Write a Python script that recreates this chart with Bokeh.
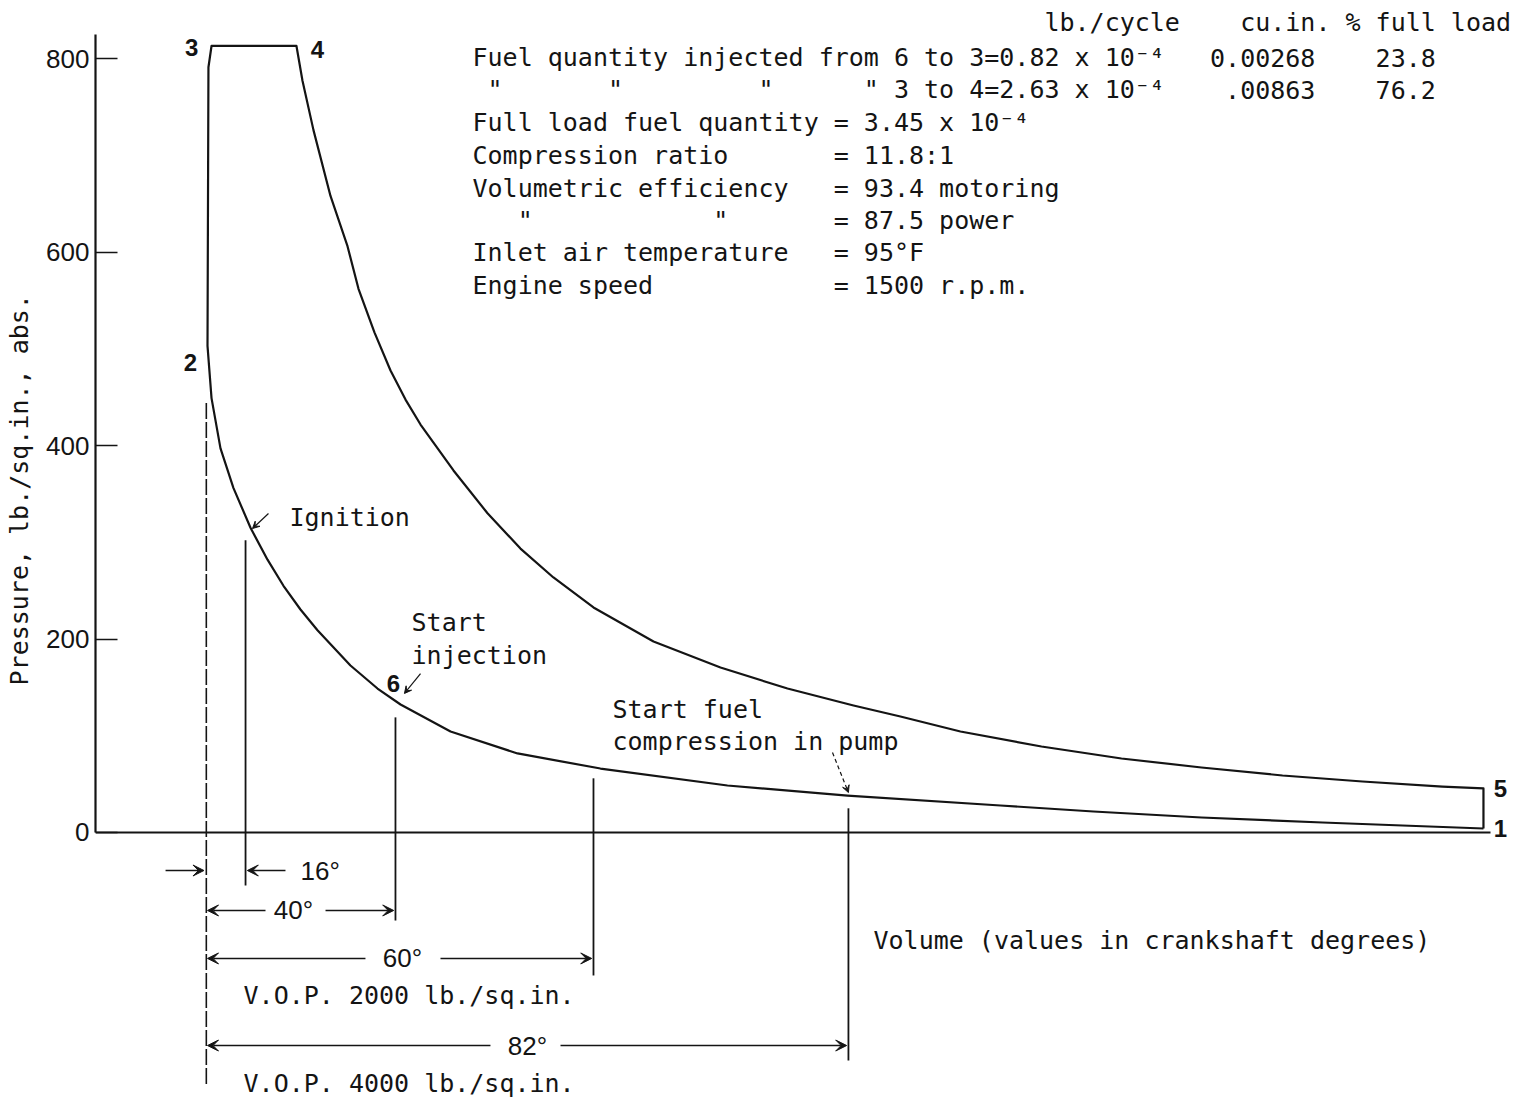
from bokeh.plotting import figure
from bokeh.models import Range1d, FixedTicker, Label, Arrow, VeeHead
from bokeh.embed import file_html
from bokeh.resources import INLINE

# ---------------- data (volume in clearance-volume units, pressure lb/sq.in. abs.) -------------
# compression curve, point 2 (TDC) -> point 1 (BDC)
comp_vol = [1.000, 1.034, 1.110, 1.220, 1.364, 1.508, 1.643, 1.787, 1.931, 2.210, 2.439, 2.634,
            3.057, 3.624, 4.326, 5.401, 6.417, 7.712, 8.499, 9.413, 10.437, 11.114, 11.80]
comp_p = [503, 449, 397, 356, 315, 282, 255, 230.5, 209, 172.6, 148.8, 132.3,
          104.4, 81.7, 66.1, 48.6, 38.2, 27.9, 21.7, 15.5, 10.3, 7.2, 4.1]
# combustion rise 2 -> 3
comb_vol = [1.008, 1.034]
comb_p = [791, 813]
# expansion curve, point 4 -> point 5
exp_vol = [1.753, 1.804, 1.897, 2.041, 2.185, 2.278, 2.413, 2.549, 2.676, 2.803, 3.082, 3.370,
           3.649, 3.928, 4.267, 4.775, 5.342, 5.909, 6.468, 6.865, 7.373, 8.059, 8.736,
           9.413, 10.099, 10.776, 11.453, 11.80]
exp_p = [813, 777, 726, 658, 606, 562, 517, 477.5, 447.5, 421.7, 374.2, 330,
         293.5, 263.6, 232.6, 197.4, 170.5, 148.8, 131.3, 119.9, 104.4, 88.9, 76.5,
         67.2, 58.9, 52.7, 47.5, 45.5]

# crank-angle events (degrees before top dead centre)
event_deg = [0, 16, 40, 60, 82]
event_vol = [0.99, 1.322, 2.591, 4.267, 6.425]
event_top = [444, 302, 119, 56, 25]

y_ticks = [0, 200, 400, 600, 800]
y_tick_labels = ["0", "200", "400", "600", "800"]

# ---------------- layout helpers ----------------
event_bottom = [-261.5, -54.8, -91.0, -147.8, -235.7]
dim_rows = [-39.3, -80.6, -130.2, -220.2]

MONO = "DejaVu Sans Mono"
LETTER = "Liberation Sans"
INK = "#141414"

p = figure(width=1519, height=1099,
           x_range=Range1d(0.052, 12.105), y_range=Range1d(-276.0, 860.0),
           output_backend="svg", toolbar_location=None,
           min_border_left=95, min_border_right=0, min_border_top=0, min_border_bottom=0)
p.xgrid.visible = False
p.ygrid.visible = False
p.outline_line_color = None

# y axis
ya = p.yaxis[0]
ya.ticker = FixedTicker(ticks=y_ticks)
ya.major_label_overrides = {t: s for t, s in zip(y_ticks, y_tick_labels)}
ya.bounds = (0, 825)
ya.major_tick_in = 22
ya.major_tick_out = 0
ya.minor_tick_in = 0
ya.minor_tick_out = 0
ya.axis_line_width = 2.2
ya.axis_line_color = INK
ya.major_tick_line_width = 1.6
ya.major_tick_line_color = INK
ya.major_label_text_font = LETTER
ya.major_label_text_font_size = "26px"
ya.major_label_text_color = INK
ya.major_label_standoff = 6
# leading no-break spaces shift the centred title up to where the original sits
ya.axis_label = "\u00a0" * 8 + "Pressure, lb./sq.in., abs."
ya.axis_label_text_font = MONO
ya.axis_label_text_font_size = "25px"
ya.axis_label_text_font_style = "normal"
ya.axis_label_text_color = INK
ya.axis_label_standoff = 9

# x axis at zero pressure
xa = p.xaxis[0]
xa.fixed_location = 0
xa.ticker = FixedTicker(ticks=[])
xa.bounds = (0.052, 11.86)
xa.major_tick_in = 0
xa.major_tick_out = 0
xa.minor_tick_in = 0
xa.minor_tick_out = 0
xa.major_label_standoff = 0
xa.axis_line_width = 2.2
xa.axis_line_color = INK

# ---------------- cycle ----------------
cycle_x = comp_vol[::-1] + comb_vol + exp_vol + [comp_vol[-1]]
cycle_y = comp_p[::-1] + comb_p + exp_p + [comp_p[-1]]
p.line(cycle_x, cycle_y, line_color=INK, line_width=2.2, line_join="round")

# event lines
p.segment(x0=event_vol[:1], y0=event_top[:1], x1=event_vol[:1], y1=event_bottom[:1],
          line_color=INK, line_width=1.6, line_dash="16 3")
p.segment(x0=event_vol[1:], y0=event_top[1:], x1=event_vol[1:], y1=event_bottom[1:],
          line_color=INK, line_width=1.8)

def arrow(x0, y0, x1, y1, size=11, dash="solid", lw=1.4):
    p.add_layout(Arrow(end=VeeHead(size=size, line_color=INK, fill_color=INK, line_width=1),
                       x_start=x0, y_start=y0, x_end=x1, y_end=y1,
                       line_color=INK, line_width=lw, line_dash=dash))

def label(x, y, text, font=MONO, size="25px", align="left", baseline="middle", style="normal"):
    p.add_layout(Label(x=x, y=y, text=text, text_font=font, text_font_size=size,
                       text_align=align, text_baseline=baseline, text_color=INK,
                       text_font_style=style))

# dimension arrows
tdc = event_vol[0]
arrow(0.645, dim_rows[0], tdc - 0.02, dim_rows[0])
arrow(1.660, dim_rows[0], event_vol[1] + 0.015, dim_rows[0])
label(1.787, dim_rows[0], f"{event_deg[1]}°", font=LETTER, size="26px")
arrow(1.491, dim_rows[1], tdc + 0.01, dim_rows[1])
arrow(1.999, dim_rows[1], event_vol[2] - 0.015, dim_rows[1])
label(1.728, dim_rows[1], f"{event_deg[2]}°", font=LETTER, size="26px", align="center")
arrow(2.337, dim_rows[2], tdc + 0.01, dim_rows[2])
arrow(2.972, dim_rows[2], event_vol[3] - 0.015, dim_rows[2])
label(2.650, dim_rows[2], f"{event_deg[3]}°", font=LETTER, size="26px", align="center")
arrow(3.395, dim_rows[3], tdc + 0.01, dim_rows[3])
arrow(3.988, dim_rows[3], event_vol[4] - 0.015, dim_rows[3])
label(3.708, dim_rows[3], f"{event_deg[4]}°", font=LETTER, size="26px", align="center")

label(1.305, -168.5, "V.O.P. 2000 lb./sq.in.")
label(1.305, -259.4, "V.O.P. 4000 lb./sq.in.")
label(6.637, -111.6, "Volume (values in crankshaft degrees)")

# point numbers
for x, y, t in [(0.865, 811.4, "3"), (1.931, 809.3, "4"), (0.856, 485.8, "2"),
                (11.944, 45.5, "5"), (11.944, 4.1, "1"), (2.574, 154.0, "6")]:
    label(x, y, t, font=LETTER, size="24px", align="center", style="bold")

# event notes
label(1.694, 325.6, "Ignition")
arrow(1.516, 329.7, 1.381, 314.2, size=7, lw=1.2)
label(2.727, 217.1, "Start")
label(2.727, 182.9, "injection")
arrow(2.803, 164.3, 2.667, 143.7, size=7, lw=1.2)
label(4.428, 127.1, "Start fuel")
label(4.428, 94.1, "compression in pump")
arrow(6.290, 82.7, 6.425, 41.3, size=7, lw=1.2, dash="4 3")

# information block (typewritten, monospaced columns)
X0 = 3.243
CW = 0.1274
rows = [837.2, 801.0, 768.0, 733.9, 699.7, 665.6, 632.6, 599.5, 565.4]
block = [
    (0, 38, "lb./cycle"), (0, 51, "cu.in."), (0, 58, "% full load"),
    (1, 0, "Fuel quantity injected from 6 to 3=0.82 x 10⁻⁴"), (1, 49, "0.00268"), (1, 60, "23.8"),
    (2, 1, '"'), (2, 9, '"'), (2, 19, '"'), (2, 26, '"'),
    (2, 28, "3 to 4=2.63 x 10⁻⁴"), (2, 50, ".00863"), (2, 60, "76.2"),
    (3, 0, "Full load fuel quantity = 3.45 x 10⁻⁴"),
    (4, 0, "Compression ratio"), (4, 24, "= 11.8:1"),
    (5, 0, "Volumetric efficiency"), (5, 24, "= 93.4 motoring"),
    (6, 3, '"'), (6, 16, '"'), (6, 24, "= 87.5 power"),
    (7, 0, "Inlet air temperature"), (7, 24, "= 95°F"),
    (8, 0, "Engine speed"), (8, 24, "= 1500 r.p.m."),
]
for r, c, t in block:
    label(X0 + c * CW, rows[r], t)

open("out.html", "w").write(file_html(p, INLINE))
